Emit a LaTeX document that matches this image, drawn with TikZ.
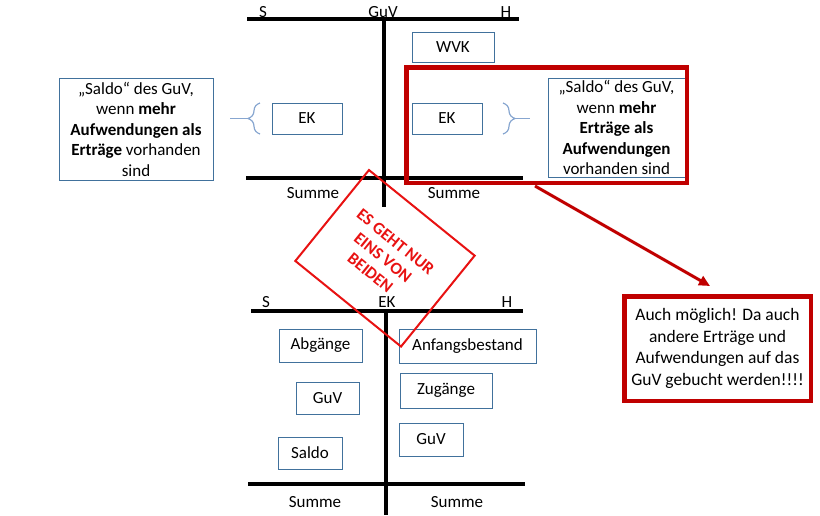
\documentclass[tikz,border=0pt]{standalone}
\usepackage{fontspec}
\setmainfont{Carlito}
\usetikzlibrary{arrows.meta,decorations.pathreplacing}
\definecolor{dunkelrot}{RGB}{192,0,0}
\definecolor{signalrot}{RGB}{232,18,18}
\definecolor{rahmenblau}{RGB}{65,113,156}
\definecolor{klammerblau}{RGB}{135,166,208}
\tikzset{
  konto/.style={line width=4pt},
  feld/.style={draw=rahmenblau, line width=0.9pt, inner sep=0pt},
  rahmen/.style={draw=dunkelrot, line width=4.5pt, inner sep=0pt},
  klammer/.style={klammerblau, line width=1.2pt, decorate, decoration={brace, amplitude=12pt}},
}

\begin{document}
\begin{tikzpicture}[x=1pt, y=-1pt, every node/.style={font=\fontsize{17}{20.5}\selectfont}]
\useasboundingbox (0,0) rectangle (820,515);
% GuV-Konto
\draw[konto] (247,19) -- (519,19); \draw[konto] (384,19) -- (384,207);
\draw[konto] (246,178) -- (523,178);
\foreach \x/\t in {263/S,383/GuV,506/H} \node[anchor=base] (guv-\t) at (\x,17) {\t};
\foreach \x/\n in {313/l,454/r} \node[anchor=base] (summe-o\n) at (\x,198) {Summe};
\node[feld, minimum width=82pt, minimum height=30pt] (wvk) at (453,47) {WVK};
\node[feld, minimum width=70pt, minimum height=31pt] (ek-l) at (307,118.5) {EK};
\node[feld, minimum width=70pt, minimum height=31pt] (ek-r) at (447,118.5) {EK};
\node[feld, minimum width=154pt, minimum height=102pt, align=center] (saldo-l) at (136,129)
  {„Saldo“ des GuV,\\ wenn \textbf{mehr}\\ \textbf{Aufwendungen als}\\ \textbf{Erträge} vorhanden\\ sind};
\node[feld, minimum width=137pt, minimum height=99pt, align=center] (saldo-r) at (616.5,127.5)
  {„Saldo“ des GuV,\\ wenn \textbf{mehr}\\ \textbf{Erträge als}\\ \textbf{Aufwendungen}\\ vorhanden sind};
% Klammern
\coordinate (kl-lo) at (260,103); \coordinate (kl-lu) at (260,134);
\coordinate (kl-ls) at (248,118.5); \coordinate (kl-le) at (230,118.5);
\draw[klammer] (kl-lu) -- (kl-lo); \draw[klammerblau, line width=1.2pt] (kl-ls) -- (kl-le);
\coordinate (kl-ro) at (503,103); \coordinate (kl-ru) at (503,134);
\coordinate (kl-rs) at (515,118.5); \coordinate (kl-re) at (530,118.5);
\draw[klammer] (kl-ro) -- (kl-ru); \draw[klammerblau, line width=1.2pt] (kl-rs) -- (kl-re);
\node[rahmen, minimum width=280.5pt, minimum height=115.5pt] (plus) at (546.5,125) {};
% EK-Konto
\draw[konto] (251,311) -- (523,311); \draw[konto] (386,311) -- (386,515);
\draw[konto] (248,484) -- (525,484);
\foreach \x/\t in {266/S,387/EK,507/H} \node[anchor=base] (ek-\t) at (\x,307) {\t};
\foreach \x/\n in {315/l,457/r} \node[anchor=base] (summe-u\n) at (\x,507) {Summe};
\foreach \n/\x/\y/\b/\h/\t in {abg/320.5/345.5/83/33/Abgänge, afb/467.5/346/137/34/Anfangsbestand,
  guv-l/327.5/398/63/32/GuV, zug/446/390.5/92/35/Zugänge, saldo/310/453/64/32/Saldo, guv-r/431/439.5/64/33/GuV}
  \node[feld, minimum width=\b pt, minimum height=\h pt] (\n) at (\x,\y) {\t};
% Hinweise
\node[draw=signalrot, line width=2pt, rotate=-39, minimum width=136pt, minimum height=117pt] (nureins) at (385,258.3) {};
\node[rotate=-39, text=signalrot, align=center, font=\fontsize{17}{20}\selectfont\bfseries] (nureins-text) at (383,257.5)
  {ES GEHT NUR\\ EINS VON\\ BEIDEN};
\node[rahmen, minimum width=186.5pt, minimum height=104.5pt, align=center,
  font=\fontsize{17.5}{21.5}\selectfont] (moeglich) at (717.5,348.5)
  {Auch möglich! Da auch\\ andere Erträge und\\ Aufwendungen auf das\\ GuV gebucht werden!!!!};
\coordinate (pfeil-a) at (535,186); \coordinate (pfeil-b) at (710,286);
\draw[dunkelrot, line width=3pt, -{Triangle[length=11pt, width=10pt]}] (pfeil-a) -- (pfeil-b);
\end{tikzpicture}
\end{document}
